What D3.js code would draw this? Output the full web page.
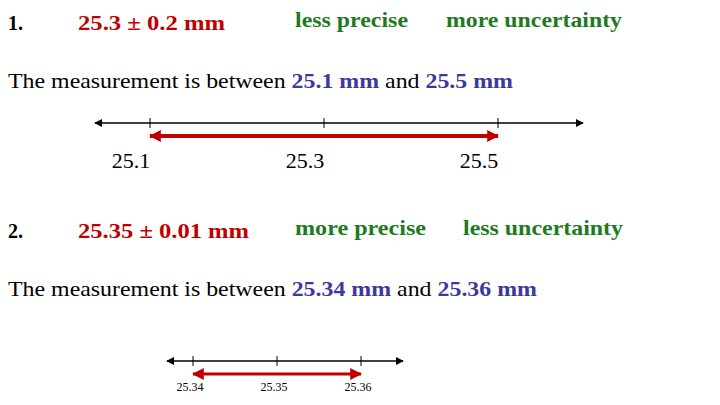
<!DOCTYPE html>
<html><head><meta charset="utf-8">
<script src="https://cdn.jsdelivr.net/npm/d3@7"></script>
<style>body{margin:0;background:#fff}text{font-family:"Liberation Serif",serif}</style>
</head><body><svg id="s" width="720" height="405"></svg>
<script>
const ticks1 = [25.1, 25.3, 25.5];
const range1 = [25.1, 25.5];
const ticks2 = [25.34, 25.35, 25.36];
const range2 = [25.34, 25.36];

const RED = "#c00000", GREEN = "#1e7a1e", BLUE = "#3a3a9c";
const svg = d3.select("#s");
const defs = svg.append("defs");
function marker(id, color, w) {
  defs.append("marker").attr("id", id).attr("viewBox", "0 0 10 10")
    .attr("refX", 9).attr("refY", 5).attr("markerWidth", w).attr("markerHeight", w)
    .attr("orient", "auto-start-reverse").attr("markerUnits", "userSpaceOnUse")
    .append("path").attr("d", "M0,0L10,5L0,10Z").attr("fill", color);
}
marker("ak", "#000", 8); marker("ar", RED, 12);

function txt(x, y, s, fs, fill, len) {
  const t = svg.append("text").attr("x", x).attr("y", y).attr("font-size", fs)
    .attr("font-weight", "bold").attr("fill", fill).text(s);
  if (len) t.attr("textLength", len).attr("lengthAdjust", "spacingAndGlyphs");
  return t;
}
function header(y, num, val, vl, p, pl, u, ux, ul, lo, hi, ll) {
  txt(8, y, num, 20, "#000");
  txt(78, y, val, 22, RED, vl);
  txt(295, y - 3, p, 21, GREEN, pl);
  txt(ux, y - 3, u, 21, GREEN, ul);
  const t = svg.append("text").attr("x", 8).attr("y", y + 58).attr("font-size", 21)
    .attr("textLength", ll).attr("lengthAdjust", "spacingAndGlyphs");
  t.append("tspan").text("The measurement is between ");
  t.append("tspan").attr("fill", BLUE).attr("font-weight", "bold").text(lo + " mm");
  t.append("tspan").text(" and ");
  t.append("tspan").attr("fill", BLUE).attr("font-weight", "bold").text(hi + " mm");
}
header(30, "1.", "25.3 ± 0.2 mm", 147, "less precise", 113, "more uncertainty", 446, 176, "25.1", "25.5", 505);
header(238, "2.", "25.35 ± 0.01 mm", 171, "more precise", 131, "less uncertainty", 463, 160, "25.34", "25.36", 529);

function numberLine(ticks, range, px, y, ext, fs, ff, ly, dx) {
  const x = d3.scaleLinear().domain(range).range(px);
  const g = svg.append("g");
  g.append("line").attr("x1", px[0] - ext[0]).attr("x2", px[1] + ext[1]).attr("y1", y).attr("y2", y)
    .attr("stroke", "#000").attr("stroke-width", 1.5)
    .attr("marker-start", "url(#ak)").attr("marker-end", "url(#ak)");
  g.selectAll(".t").data(ticks).join("line").attr("x1", d => x(d)).attr("x2", d => x(d))
    .attr("y1", y - 5).attr("y2", y + 5).attr("stroke", "#000");
  g.append("line").attr("x1", x(range[0])).attr("x2", x(range[1])).attr("y1", y + 13).attr("y2", y + 13)
    .attr("stroke", RED).attr("stroke-width", fs > 15 ? 4 : 3)
    .attr("marker-start", "url(#ar)").attr("marker-end", "url(#ar)");
  g.selectAll(".l").data(ticks).join("text").attr("x", d => x(d) + dx).attr("y", ly)
    .attr("text-anchor", "middle").attr("font-size", fs).attr("font-family", ff).text(d => d);
}
numberLine(ticks1, range1, [150, 498], 123, [55, 85], 22, "Liberation Serif", 168, -19);
numberLine(ticks2, range2, [193, 361], 361, [26, 42], 12, "Liberation Sans", 391, -3);
</script></body></html>
